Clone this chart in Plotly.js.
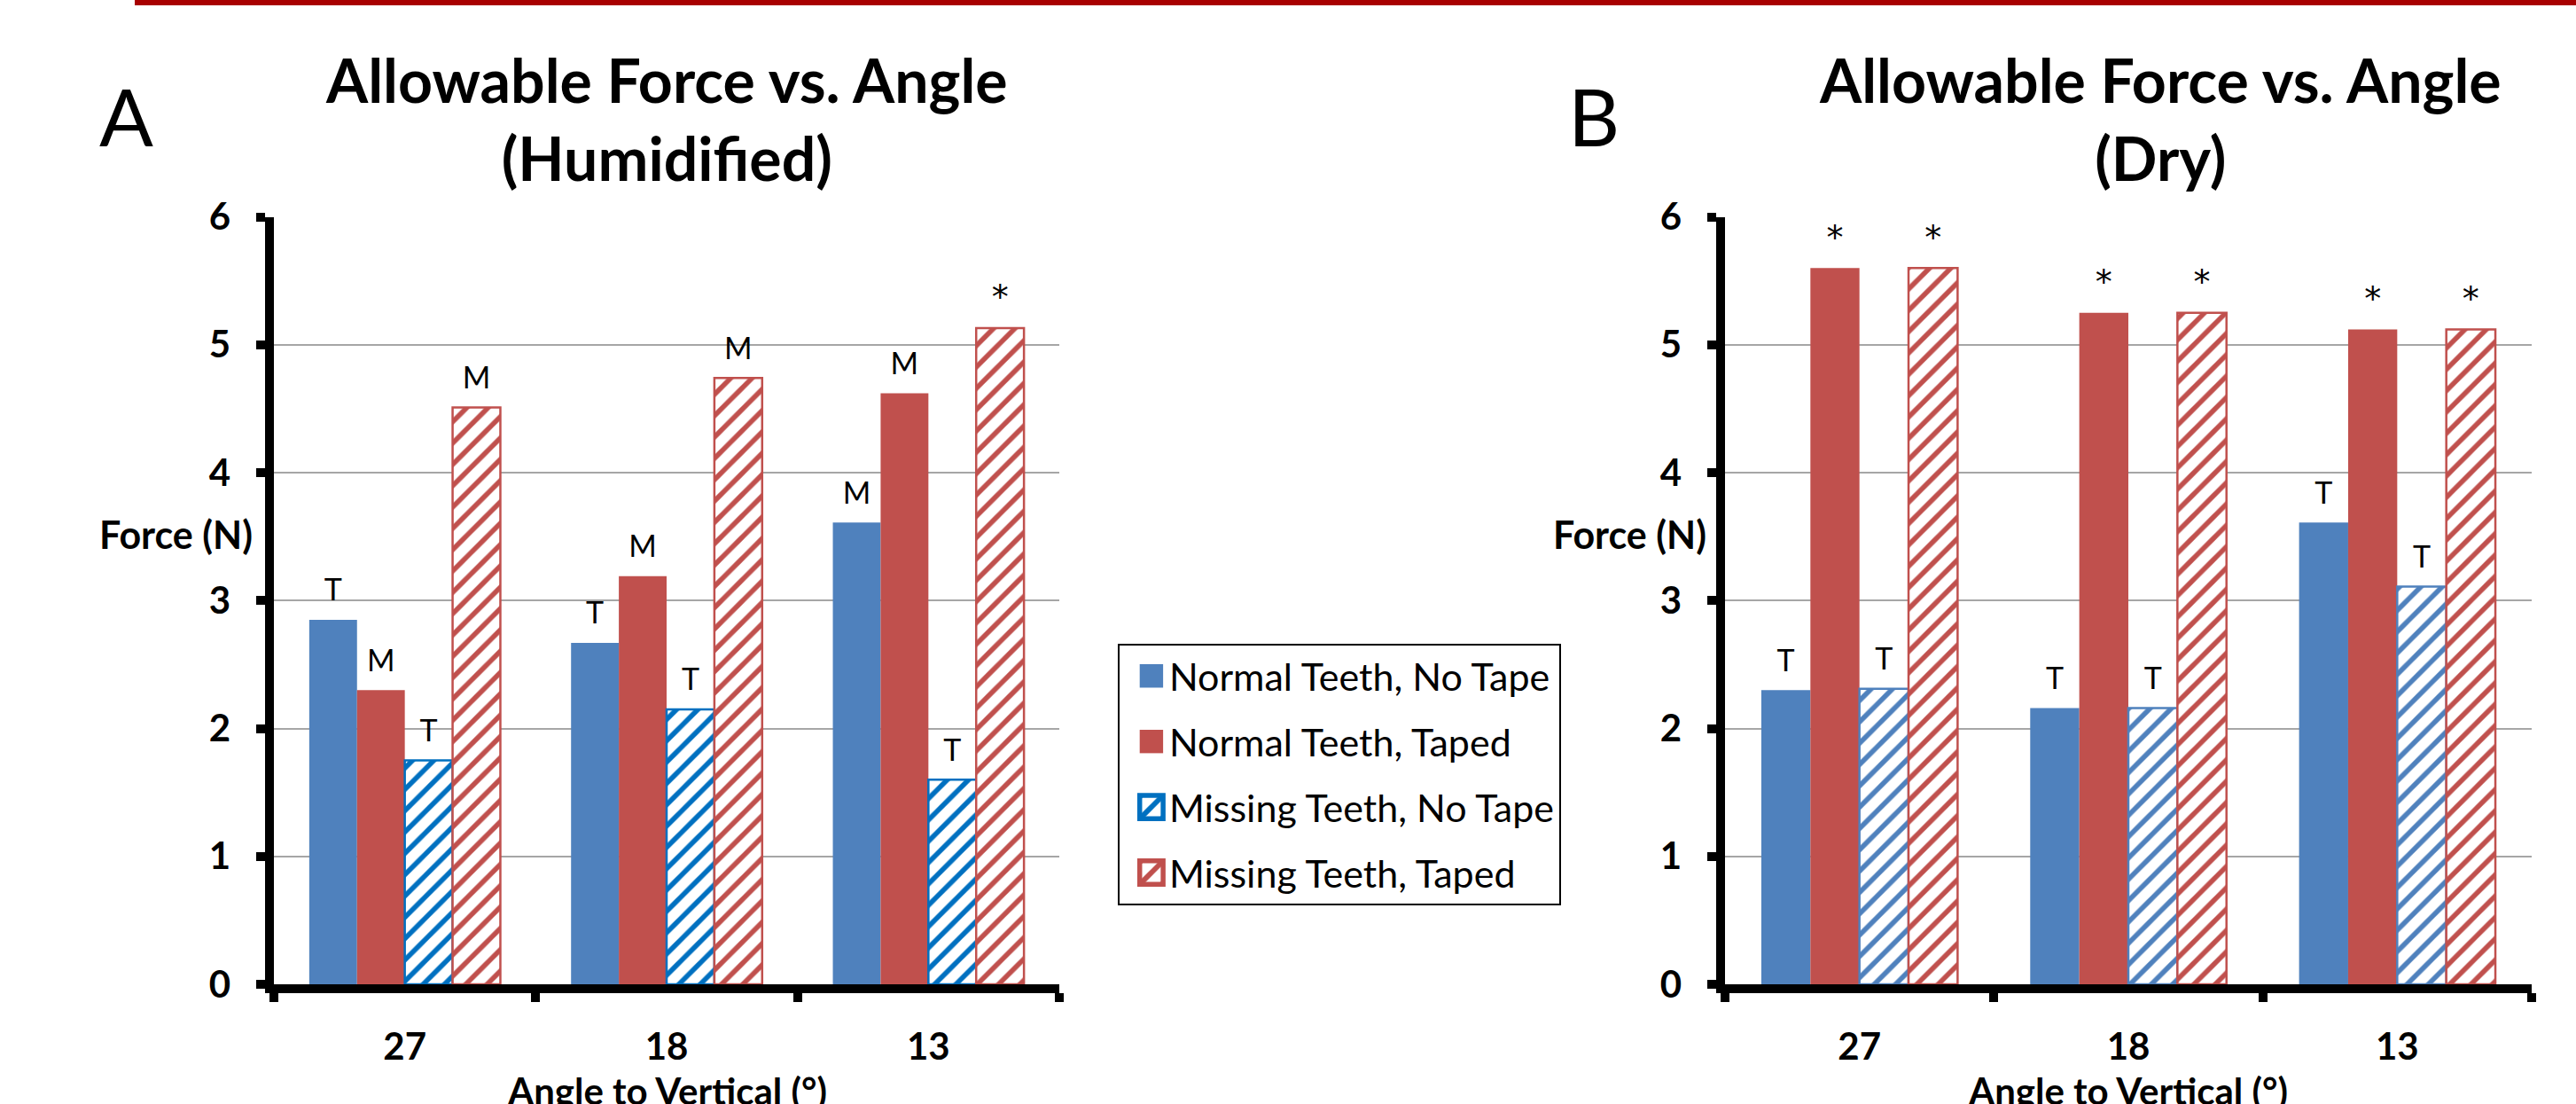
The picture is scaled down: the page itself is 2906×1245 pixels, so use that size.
<!DOCTYPE html>
<html>
<head>
<meta charset="utf-8">
<script src="https://cdn.plot.ly/plotly-3.0.1.min.js"></script>
<style>
html,body{margin:0;padding:0;background:#fff;}
#chart{width:2906px;height:1245px;}
#chart .legend .legendpoints path{transform:translate(36px,0px) scale(2.2);}
</style>
</head>
<body>
<div id="chart"></div>
<script>
// ---- data ----
const angles = ['27', '18', '13'];
const seriesNames = ['Normal Teeth, No Tape', 'Normal Teeth, Taped', 'Missing Teeth, No Tape', 'Missing Teeth, Taped'];

// Panel A: Humidified
const humNormalNoTape   = [2.85, 2.67, 3.61];
const humNormalTaped    = [2.30, 3.19, 4.62];
const humMissingNoTape  = [1.75, 2.15, 1.60];
const humMissingTaped   = [4.51, 4.74, 5.13];
const humLabelsNormalNoTape  = ['T', 'T', 'M'];
const humLabelsNormalTaped   = ['M', 'M', 'M'];
const humLabelsMissingNoTape = ['T', 'T', 'T'];
const humLabelsMissingTaped  = ['M', 'M', '*'];

// Panel B: Dry
const dryNormalNoTape   = [2.30, 2.16, 3.61];
const dryNormalTaped    = [5.60, 5.25, 5.12];
const dryMissingNoTape  = [2.31, 2.16, 3.11];
const dryMissingTaped   = [5.60, 5.25, 5.12];
const dryLabelsNormalNoTape  = ['T', 'T', 'T'];
const dryLabelsNormalTaped   = ['*', '*', '*'];
const dryLabelsMissingNoTape = ['T', 'T', 'T'];
const dryLabelsMissingTaped  = ['*', '*', '*'];

// ---- styling ----
const BLUE = '#4F81BD', RED = '#C0504D', BLUE_HATCH_A = '#0070C0';
const FONT = 'Lato, "Open Sans", sans-serif';
const lbl = arr => arr.map(s => (s === '*'
  ? "<span style='font-size:38px;font-family:DejaVu Sans'>*</span>"
  : "<span style='font-size:34px'>" + s + "</span>") + "<br>\u00a0");

function solid(y, labels, color, name, xa, ya, show, grp) {
  return {type: 'bar', x: angles, y: y, name: name, xaxis: xa, yaxis: ya,
    marker: {color: color, line: {width: 0}},
    text: lbl(labels), textposition: 'outside', cliponaxis: false, constraintext: 'none',
    textfont: {size: 12, color: '#000', family: FONT},
    showlegend: show, legendgroup: grp, hoverinfo: 'skip'};
}
function hatch(y, labels, color, name, xa, ya, show, grp) {
  return {type: 'bar', x: angles, y: y, name: name, xaxis: xa, yaxis: ya,
    marker: {color: '#ffffff', line: {width: 2.5, color: color},
      pattern: {shape: '/', fgcolor: color, bgcolor: '#ffffff', size: 17, solidity: 0.33}},
    text: lbl(labels), textposition: 'outside', cliponaxis: false, constraintext: 'none',
    textfont: {size: 12, color: '#000', family: FONT},
    showlegend: show, legendgroup: grp, hoverinfo: 'skip'};
}

const traces = [
  solid(humNormalNoTape, humLabelsNormalNoTape, BLUE, seriesNames[0], 'x', 'y', true, 'g1'),
  solid(humNormalTaped, humLabelsNormalTaped, RED, seriesNames[1], 'x', 'y', true, 'g2'),
  hatch(humMissingNoTape, humLabelsMissingNoTape, BLUE_HATCH_A, seriesNames[2], 'x', 'y', true, 'g3'),
  hatch(humMissingTaped, humLabelsMissingTaped, RED, seriesNames[3], 'x', 'y', true, 'g4'),
  solid(dryNormalNoTape, dryLabelsNormalNoTape, BLUE, seriesNames[0], 'x2', 'y2', false, 'g1'),
  solid(dryNormalTaped, dryLabelsNormalTaped, RED, seriesNames[1], 'x2', 'y2', false, 'g2'),
  hatch(dryMissingNoTape, dryLabelsMissingNoTape, BLUE, seriesNames[2], 'x2', 'y2', false, 'g3'),
  hatch(dryMissingTaped, dryLabelsMissingTaped, RED, seriesNames[3], 'x2', 'y2', false, 'g4')
];

function xAxis(domain, anchor) {
  return {domain: domain, anchor: anchor, type: 'category', tickson: 'boundaries',
    ticks: 'outside', ticklen: 10, tickwidth: 10, tickcolor: '#000',
    showline: true, linewidth: 10, linecolor: '#000', showgrid: false, zeroline: false,
    tickfont: {family: FONT, size: 42, color: '#000', weight: 'bold'}, ticklabelstandoff: 25,
    fixedrange: true};
}
function yAxis(domain, anchor) {
  return {domain: domain, anchor: anchor, range: [0, 6], dtick: 1, tick0: 0,
    ticks: 'outside', ticklen: 10, tickwidth: 10, tickcolor: '#000',
    showline: true, linewidth: 10, linecolor: '#000',
    showgrid: true, gridcolor: '#A6A6A6', gridwidth: 2, zeroline: false,
    ticksuffix: '\u00a0\u00a0',
    tickfont: {family: FONT, size: 42, color: '#000', weight: 'bold'},
    fixedrange: true};
}

const yDom = [0.1084, 0.8036];
const layout = {
  width: 2906, height: 1245, autosize: false,
  margin: {l: 0, r: 0, t: 0, b: 0, pad: 0},
  paper_bgcolor: '#fff', plot_bgcolor: '#fff',
  font: {family: FONT, color: '#000'},
  barmode: 'group', bargap: 0.27, bargroupgap: 0,
  xaxis: xAxis([0.10633, 0.41122], 'y'),
  yaxis: yAxis(yDom, 'x'),
  xaxis2: xAxis([0.66965, 0.98279], 'y2'),
  yaxis2: yAxis(yDom, 'x2'),
  showlegend: true,
  legend: {x: 0.4339, y: 0.417, xanchor: 'left', yanchor: 'top',
    bordercolor: '#000', borderwidth: 2, bgcolor: '#fff',
    font: {family: FONT, size: 43, color: '#000'},
    traceorder: 'grouped', tracegroupgap: 15, itemwidth: 46},
  shapes: [
    {type: 'rect', xref: 'paper', yref: 'paper', x0: 152/2906, x1: 1, y0: 1 - 6/1245, y1: 1,
     fillcolor: '#A80000', line: {width: 0}}
  ],
  annotations: [
    {xref: 'paper', yref: 'paper', x: 0.2588, y: 0.8924, xanchor: 'center', yanchor: 'middle', showarrow: false,
     text: 'Allowable Force vs. Angle<br>(Humidified)', font: {family: FONT, size: 68, weight: 'bold'}},
    {xref: 'paper', yref: 'paper', x: 0.8386, y: 0.8924, xanchor: 'center', yanchor: 'middle', showarrow: false,
     text: 'Allowable Force vs. Angle<br>(Dry)', font: {family: FONT, size: 68, weight: 'bold'}},
    {xref: 'paper', yref: 'paper', x: 0.0492, y: 0.8956, xanchor: 'center', yanchor: 'middle', showarrow: false,
     text: 'A', font: {family: FONT, size: 90}},
    {xref: 'paper', yref: 'paper', x: 0.6187, y: 0.8956, xanchor: 'center', yanchor: 'middle', showarrow: false,
     text: 'B', font: {family: FONT, size: 90}},
    {xref: 'paper', yref: 'paper', x: 287/2906, y: 0.516, xanchor: 'right', yanchor: 'middle', showarrow: false,
     text: 'Force (N)', font: {family: FONT, size: 43, weight: 'bold'}},
    {xref: 'paper', yref: 'paper', x: 1927/2906, y: 0.516, xanchor: 'right', yanchor: 'middle', showarrow: false,
     text: 'Force (N)', font: {family: FONT, size: 43, weight: 'bold'}},
    {xref: 'paper', yref: 'paper', x: (0.10633 + 0.41122) / 2, y: 1 - 1203/1245, xanchor: 'center', yanchor: 'top', showarrow: false,
     text: 'Angle to Vertical (°)', font: {family: FONT, size: 42, weight: 'bold'}},
    {xref: 'paper', yref: 'paper', x: (0.66965 + 0.98279) / 2, y: 1 - 1203/1245, xanchor: 'center', yanchor: 'top', showarrow: false,
     text: 'Angle to Vertical (°)', font: {family: FONT, size: 42, weight: 'bold'}}
  ]
};

Plotly.newPlot('chart', traces, layout, {staticPlot: true, displayModeBar: false});
</script>
</body>
</html>
